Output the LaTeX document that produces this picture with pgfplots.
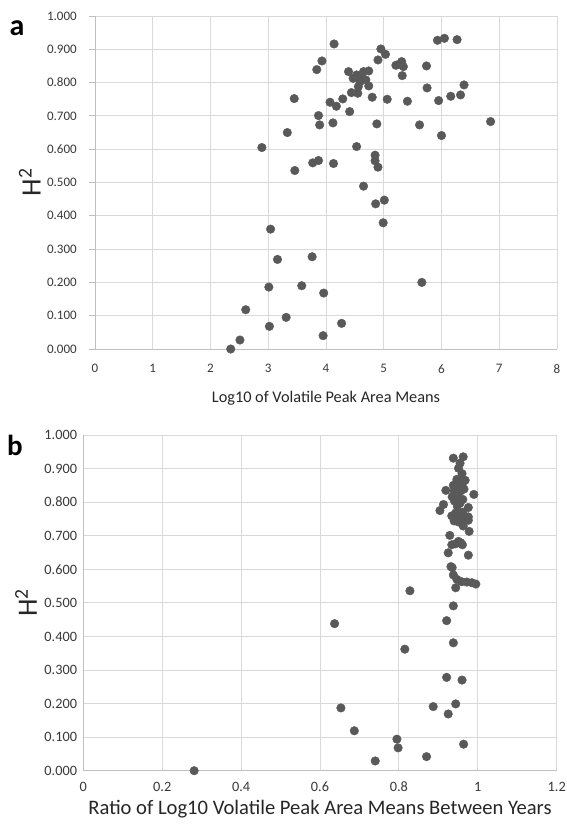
\documentclass[border=0pt]{standalone}
\usepackage{fontspec}
\setmainfont{Carlito}
\usepackage{pgfplots}
\pgfplotsset{compat=1.18}
\definecolor{mk}{HTML}{595959}
\definecolor{gridc}{HTML}{D9D9D9}
\definecolor{axc}{HTML}{BFBFBF}
\begin{document}
\begin{tikzpicture}
\path[use as bounding box] (0pt,0pt) rectangle (567pt,-827pt);
\pgfplotsset{
  common/.style={
    scale only axis,
    axis lines*=left,
    grid=major,
    major grid style={gridc, line width=0.9pt},
    axis line style={axc, line width=0.9pt},
    ymin=0, ymax=1,
    ytick={0,0.1,0.2,0.3,0.4,0.5,0.6,0.7,0.8,0.9,1},
    /pgf/number format/assume math mode=true,
    tick label style={text=black!78},
    y tick label style={/pgf/number format/fixed, /pgf/number format/fixed zerofill, /pgf/number format/precision=3},
    label style={text=black!85},
    ylabel={H\textsuperscript{2}},
  },
  dots/.style={only marks, mark=*, mark size=4.3pt, mark options={fill=mk, draw=mk}},
}
\begin{axis}[common,
  at={(95pt,-349pt)}, anchor=south west,
  width=462pt, height=333pt,
  xmin=0, xmax=8, xtick={0,1,2,3,4,5,6,7,8},
  tick label style={font=\fontsize{13}{13}\selectfont},
  tick align=outside, major tick length=6pt,
  ytick style={axc, line width=0.9pt},
  xtick style={draw=none},
  yticklabel style={xshift=-8.7pt},
  xticklabel style={yshift=-5.7pt},
  xlabel={Log10 of Volatile Peak Area Means},
  xlabel style={at={(axis description cs:0.5,-0.147)}, anchor=center, font=\fontsize{16.3}{16.3}\selectfont},
  ylabel style={at={(axis description cs:-0.141,0.5)}, anchor=center, font=\fontsize{28}{28}\selectfont},
]
\addplot[dots] table {
x y
2.35 0.000
2.51 0.027
2.61 0.118
2.89 0.605
3.01 0.186
3.02 0.068
3.04 0.360
3.16 0.269
3.31 0.095
3.33 0.650
3.45 0.752
3.46 0.536
3.58 0.190
3.76 0.277
3.77 0.559
3.84 0.839
3.87 0.566
3.87 0.701
3.89 0.673
3.93 0.865
3.95 0.040
3.96 0.168
4.07 0.741
4.12 0.679
4.13 0.557
4.14 0.916
4.18 0.729
4.27 0.077
4.29 0.751
4.39 0.833
4.41 0.713
4.44 0.770
4.47 0.813
4.53 0.823
4.53 0.608
4.55 0.768
4.56 0.788
4.59 0.803
4.62 0.816
4.65 0.833
4.65 0.489
4.69 0.808
4.74 0.835
4.74 0.790
4.80 0.756
4.85 0.582
4.85 0.565
4.86 0.436
4.88 0.676
4.90 0.546
4.90 0.868
4.95 0.901
4.99 0.379
5.01 0.447
5.03 0.885
5.06 0.750
5.21 0.852
5.26 0.855
5.31 0.863
5.32 0.821
5.34 0.848
5.41 0.744
5.62 0.673
5.66 0.200
5.74 0.850
5.75 0.784
5.93 0.927
5.95 0.746
6.00 0.641
6.05 0.933
6.16 0.759
6.27 0.929
6.33 0.763
6.39 0.793
6.85 0.683
};
\end{axis}
\begin{axis}[common,
  at={(83.3pt,-770.7pt)}, anchor=south west,
  width=473.4pt, height=335.7pt,
  xmin=0, xmax=1.2, xtick={0,0.2,0.4,0.6,0.8,1,1.2},
  tick label style={font=\fontsize{14.3}{14.3}\selectfont},
  major tick length=0pt,
  yticklabel style={xshift=-2.7pt},
  xticklabel style={yshift=-7.7pt},
  xlabel={Ratio of Log10 Volatile Peak Area Means Between Years},
  xlabel style={at={(axis description cs:0.5,-0.113)}, anchor=center, font=\fontsize{20.6}{20.6}\selectfont},
  ylabel style={at={(axis description cs:-0.121,0.5)}, anchor=center, font=\fontsize{28}{28}\selectfont},
]
\addplot[dots] table {
x y
0.281 0.000
0.740 0.029
0.870 0.042
0.798 0.068
0.964 0.079
0.795 0.094
0.687 0.119
0.925 0.169
0.653 0.187
0.887 0.191
0.944 0.199
0.960 0.270
0.921 0.278
0.815 0.362
0.938 0.381
0.637 0.438
0.921 0.447
0.938 0.491
0.828 0.536
0.944 0.545
0.995 0.556
0.985 0.560
0.972 0.562
0.959 0.563
0.947 0.570
0.938 0.583
0.932 0.608
0.935 0.605
0.976 0.642
0.925 0.649
0.934 0.673
0.961 0.673
0.944 0.676
0.957 0.679
0.951 0.683
0.929 0.701
0.978 0.713
0.963 0.729
0.951 0.741
0.940 0.744
0.976 0.746
0.958 0.750
0.946 0.751
0.966 0.752
0.976 0.756
0.934 0.759
0.952 0.763
0.944 0.768
0.962 0.770
0.904 0.775
0.976 0.784
0.948 0.788
0.913 0.793
0.955 0.797
0.941 0.803
0.962 0.808
0.950 0.813
0.935 0.816
0.945 0.821
0.990 0.823
0.956 0.833
0.940 0.833
0.919 0.835
0.965 0.839
0.950 0.848
0.938 0.850
0.960 0.852
0.944 0.855
0.955 0.863
0.968 0.865
0.947 0.868
0.960 0.885
0.951 0.901
0.955 0.916
0.938 0.931
0.963 0.935
};
\end{axis}
\node[anchor=base, font=\bfseries\fontsize{30}{30}\selectfont] at (17pt,-35pt) {a};
\node[anchor=base, font=\bfseries\fontsize{29}{29}\selectfont] at (15pt,-455pt) {b};
\end{tikzpicture}
\end{document}
